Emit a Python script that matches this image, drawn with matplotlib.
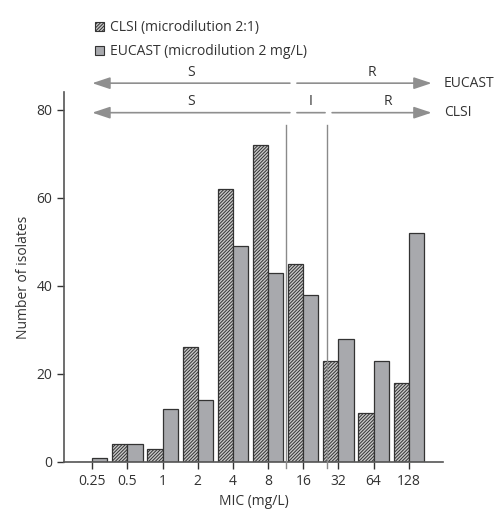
import numpy as np
import matplotlib.pyplot as plt
from matplotlib.patches import Patch

plt.rcParams['font.family'] = ['Open Sans', 'DejaVu Sans']
plt.rcParams['hatch.color'] = '#3a3a3a'
plt.rcParams['hatch.linewidth'] = 0.7

# MIC categories and counts
mic_labels = ['0.25', '0.5', '1', '2', '4', '8', '16', '32', '64', '128']
clsi = [0, 4, 3, 26, 62, 72, 45, 23, 11, 18]
eucast = [1, 4, 12, 14, 49, 43, 38, 28, 23, 52]

# breakpoint positions (in category units)
breakpoints = [5.5, 6.67]

fig = plt.figure(figsize=(5.01, 5.11), dpi=100)
ax = fig.add_axes([0.128, 0.096, 0.756, 0.724])

x = np.arange(len(mic_labels))
w = 0.43
ax.bar(x - w / 2, clsi, w, color='#c8c8c8', edgecolor='#333333', linewidth=0.9,
       hatch='//////////', label='CLSI (microdilution 2:1)')
ax.bar(x + w / 2, eucast, w, color='#a8a9ad', edgecolor='#333333', linewidth=0.9,
       label='EUCAST (microdilution 2 mg/L)')

for b in breakpoints:
    ax.plot([b, b], [-1.4, 76.4], color='#8a8a8a', lw=1, clip_on=False, zorder=3)

# S / I / R arrows
grey = '#8f8f8f'
def arrow(x0, x1, y, head_start=False, head_end=False):
    hs = 'head_length=0.9,head_width=0.3'
    style = '-'
    if head_start:
        style = '<|-,' + hs
    elif head_end:
        style = '-|>,' + hs
    ax.annotate('', xy=(x1, y), xytext=(x0, y), annotation_clip=False,
                arrowprops=dict(arrowstyle=style, color=grey, lw=1.2,
                                shrinkA=0, shrinkB=0, mutation_scale=12))

y_eu, y_cl = 86.0, 79.3
arrow(0, 5.62, y_eu, head_start=True)
arrow(5.82, 9.65, y_eu, head_end=True)
arrow(0, 5.62, y_cl, head_start=True)
arrow(5.82, 6.62, y_cl)
arrow(6.82, 9.65, y_cl, head_end=True)

lbl = dict(ha='center', va='bottom', fontsize=10, color='#333333')
ax.text(2.8, y_eu + 0.8, 'S', **lbl)
ax.text(7.95, y_eu + 0.8, 'R', **lbl)
ax.text(2.8, y_cl + 0.8, 'S', **lbl)
ax.text(6.22, y_cl + 0.8, 'I', **lbl)
ax.text(8.4, y_cl + 0.8, 'R', **lbl)
ax.text(10.0, y_eu, 'EUCAST', ha='left', va='center', fontsize=10, color='#333333')
ax.text(10.0, y_cl, 'CLSI', ha='left', va='center', fontsize=10, color='#333333')

ax.set_xlim(-0.8, 9.97)
ax.set_ylim(0, 84)
ax.set_xticks(x)
ax.set_xticklabels(mic_labels)
ax.set_yticks([0, 20, 40, 60, 80])
ax.set_xlabel('MIC (mg/L)', fontsize=10, color='#333333', labelpad=4)
ax.set_ylabel('Number of isolates', fontsize=10, color='#333333')
ax.tick_params(labelsize=10, colors='#333333', length=5, width=1)
for s in ['top', 'right']:
    ax.spines[s].set_visible(False)
for s in ['left', 'bottom']:
    ax.spines[s].set_color('#555555')
    ax.spines[s].set_linewidth(1.2)

handles = [Patch(facecolor='#c8c8c8', edgecolor='#333333', hatch='//////////', lw=0.8),
           Patch(facecolor='#a8a9ad', edgecolor='#333333', lw=0.8)]
fig.legend(handles, ['CLSI (microdilution 2:1)', 'EUCAST (microdilution 2 mg/L)'],
           loc='upper left', bbox_to_anchor=(0.165, 0.985), frameon=False,
           handlelength=0.65, handleheight=0.65, handletextpad=0.4,
           labelspacing=0.65, fontsize=10, labelcolor='#333333')

fig.savefig('out.png', dpi=100)
